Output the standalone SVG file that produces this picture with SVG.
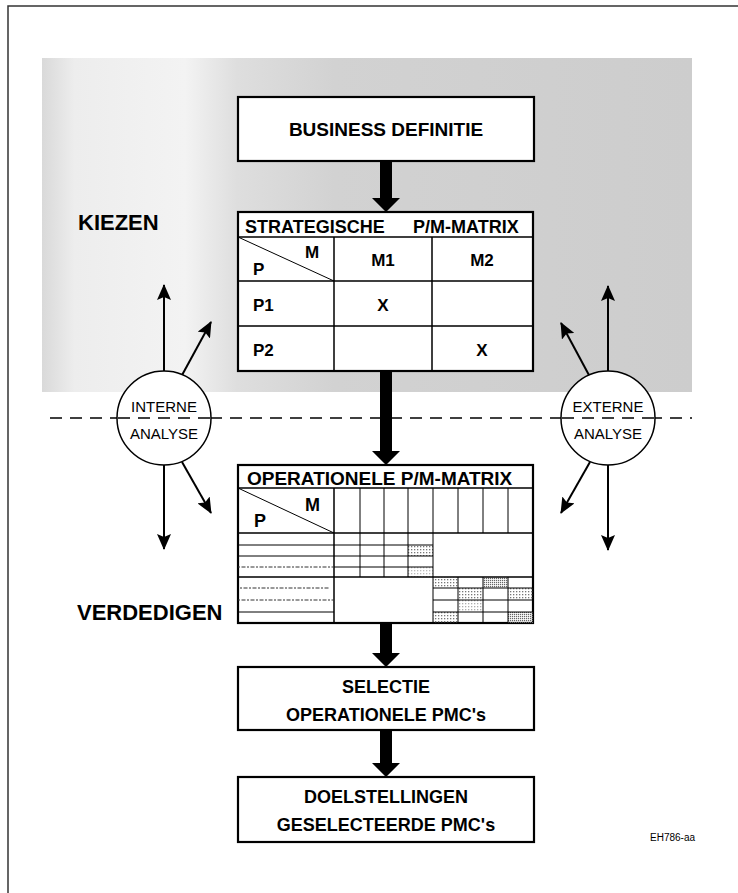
<svg xmlns="http://www.w3.org/2000/svg" width="738" height="893" viewBox="0 0 738 893">
  <style>
    .box { fill: #fff; stroke: #000; stroke-width: 2.2; }
    .grid { fill: none; stroke: #000; stroke-width: 1.5; }
    .thin { fill: none; stroke: #000; stroke-width: 1; }
    .dot { fill: none; stroke: #333; stroke-width: 1; stroke-dasharray: 2 1.5 4 1.5; }
    .b { font-family: "Liberation Sans", Arial, Helvetica, sans-serif; font-weight: bold; fill: #000; }
    .r { font-family: "Liberation Sans", Arial, Helvetica, sans-serif; fill: #000; }
    .c { text-anchor: middle; }
    .link { fill: none; stroke: #000; stroke-width: 2; marker-end: url(#head); }
    .fat { fill: #000; stroke: none; }
    .shade { fill: url(#dots); }
    .shade2 { fill: url(#dots2); }
  </style>
  <defs>
    <marker id="head" viewBox="0 0 16 14" refX="15" refY="7" markerWidth="16" markerHeight="14" markerUnits="userSpaceOnUse" orient="auto">
      <path d="M0,0 L16,7 L0,14 L3,7 z" fill="#000"/>
    </marker>
    <pattern id="dots" width="3" height="3" patternUnits="userSpaceOnUse">
      <rect width="1.3" height="1.3" fill="#777"/>
    </pattern>
    <pattern id="dots2" width="2" height="2" patternUnits="userSpaceOnUse">
      <rect width="1.2" height="1.2" fill="#666"/>
    </pattern>
    <linearGradient id="zone" x1="42" y1="0" x2="692" y2="0" gradientUnits="userSpaceOnUse">
      <stop offset="0" stop-color="#d9d9d9"/>
      <stop offset="0.05" stop-color="#ededed"/>
      <stop offset="0.22" stop-color="#f3f3f3"/>
      <stop offset="0.3" stop-color="#dedede"/>
      <stop offset="0.45" stop-color="#d2d2d2"/>
      <stop offset="1" stop-color="#cdcdcd"/>
    </linearGradient>
  </defs>

  <!-- page frame -->
  <path d="M8,893 V6 H738" fill="none" stroke="#333" stroke-width="1.5"/>

  <!-- shaded "kiezen" zone -->
  <rect x="42" y="58" width="650" height="334" fill="url(#zone)"/>

  <!-- boundary between choosing and defending -->
  <line x1="50" y1="418" x2="692" y2="418" stroke="#000" stroke-width="1.5" stroke-dasharray="12 8"/>

  <!-- connectors -->
  <g id="connectors">
    <polygon class="fat" points="380,161 392,161 392,198 400,198 386,212 372,198 380,198"/>
    <polygon class="fat" points="380,371 392,371 392,451 400,451 386,465 372,451 380,451"/>
    <polygon class="fat" points="380,623 392,623 392,653 400,653 386,667 372,653 380,653"/>
    <polygon class="fat" points="380,730 392,730 392,763 400,763 386,777 372,763 380,763"/>

    <line class="link" x1="164" y1="371" x2="164" y2="285"/>
    <line class="link" x1="181" y1="377" x2="211" y2="322"/>
    <line class="link" x1="164" y1="465" x2="164" y2="549"/>
    <line class="link" x1="182" y1="462" x2="211" y2="513"/>

    <line class="link" x1="608" y1="371" x2="608" y2="286"/>
    <line class="link" x1="590" y1="377" x2="561" y2="323"/>
    <line class="link" x1="608" y1="465" x2="608" y2="550"/>
    <line class="link" x1="590" y1="462" x2="561" y2="513"/>
  </g>

  <g id="label-kiezen">
    <text class="b" x="78" y="230" font-size="22">KIEZEN</text>
  </g>
  <g id="label-verdedigen">
    <text class="b" x="77" y="620" font-size="22">VERDEDIGEN</text>
  </g>

  <g id="business-definitie">
    <rect class="box" x="238" y="97" width="296" height="64"/>
    <text class="b c" x="386" y="136" font-size="19">BUSINESS DEFINITIE</text>
  </g>

  <g id="strategische-matrix">
    <rect class="box" x="238" y="212" width="295" height="159"/>
    <path class="grid" d="M238,237 H533 M238,281 H533 M238,326 H533 M334,237 V371 M432,237 V371"/>
    <line class="thin" x1="238" y1="237" x2="334" y2="281" stroke-width="1.4"/>
    <text class="b" font-size="18" y="233"><tspan x="245">STRATEGISCHE</tspan><tspan x="408"> P/M-MATRIX</tspan></text>
    <text class="b" x="305" y="258" font-size="17">M</text>
    <text class="b" x="253" y="275" font-size="17">P</text>
    <text class="b c" x="383" y="266" font-size="17">M1</text>
    <text class="b c" x="482" y="266" font-size="17">M2</text>
    <text class="b" x="253" y="311" font-size="17">P1</text>
    <text class="b c" x="383" y="311" font-size="17">X</text>
    <text class="b" x="253" y="356" font-size="17">P2</text>
    <text class="b c" x="482" y="356" font-size="17">X</text>
  </g>

  <g id="interne-analyse">
    <circle cx="164" cy="418" r="47" fill="#fff" stroke="#000" stroke-width="1.5"/>
    <line x1="118" y1="418" x2="210" y2="418" stroke="#000" stroke-width="1.5" stroke-dasharray="12 8"/>
    <text class="r c" x="164" y="412" font-size="15">INTERNE</text>
    <text class="r c" x="164" y="439" font-size="15">ANALYSE</text>
  </g>

  <g id="externe-analyse">
    <circle cx="608" cy="418" r="47" fill="#fff" stroke="#000" stroke-width="1.5"/>
    <line x1="562" y1="418" x2="654" y2="418" stroke="#000" stroke-width="1.5" stroke-dasharray="12 8"/>
    <text class="r c" x="608" y="412" font-size="15">EXTERNE</text>
    <text class="r c" x="608" y="439" font-size="15">ANALYSE</text>
  </g>

  <g id="operationele-matrix">
    <rect class="box" x="238" y="465" width="295" height="158"/>
    <!-- shaded cells -->
    <rect class="shade" x="408" y="545" width="25" height="11"/>
    <rect class="shade" x="408" y="567" width="25" height="10" opacity="0.5"/>
    <rect class="shade" x="433" y="577" width="25" height="11"/>
    <rect class="shade2" x="483" y="577" width="25" height="11"/>
    <rect class="shade" x="458" y="588" width="25" height="12"/>
    <rect class="shade" x="508" y="588" width="25" height="12"/>
    <rect class="shade" x="458" y="600" width="25" height="12" opacity="0.6"/>
    <rect class="shade" x="433" y="612" width="25" height="11"/>
    <rect class="shade2" x="508" y="612" width="25" height="11"/>
    <!-- main rows and columns -->
    <path class="grid" d="M238,488 H533 M238,533 H533 M238,577 H533 M334,488 V623"/>
    <!-- market columns -->
    <path class="thin" d="M360,488 V533 M384,488 V533 M408,488 V533 M433,488 V533 M458,488 V533 M483,488 V533 M508,488 V533"/>
    <!-- product rows, upper block -->
    <path class="thin" d="M360,533 V577 M384,533 V577 M408,533 V577 M433,533 V577 M334,545 H433 M334,556 H433 M334,567 H433"/>
    <path class="thin" d="M238,545 H334 M238,556 H334"/>
    <path class="dot" d="M238,567 H334"/>
    <!-- product rows, lower block -->
    <path class="thin" d="M433,577 V623 M458,577 V623 M483,577 V623 M508,577 V623 M433,588 H533 M433,600 H533 M433,612 H533"/>
    <path class="dot" d="M240,588 H330 M238,600 H334"/>
    <path class="thin" d="M238,612 H334"/>
    <line class="thin" x1="238" y1="488" x2="334" y2="533" stroke-width="1.4"/>
    <text class="b" x="247" y="485" font-size="19">OPERATIONELE P/M-MATRIX</text>
    <text class="b" x="305" y="511" font-size="18">M</text>
    <text class="b" x="254" y="527" font-size="18">P</text>
  </g>

  <g id="selectie">
    <rect class="box" x="238" y="667" width="296" height="63"/>
    <text class="b c" x="386" y="693" font-size="18">SELECTIE</text>
    <text class="b c" x="386" y="721" font-size="18">OPERATIONELE PMC's</text>
  </g>

  <g id="doelstellingen">
    <rect class="box" x="238" y="777" width="296" height="65"/>
    <text class="b c" x="386" y="803" font-size="18">DOELSTELLINGEN</text>
    <text class="b c" x="386" y="831" font-size="18">GESELECTEERDE PMC's</text>
  </g>

  <g id="code">
    <text class="r" x="650" y="841" font-size="10">EH786-aa</text>
  </g>
</svg>
